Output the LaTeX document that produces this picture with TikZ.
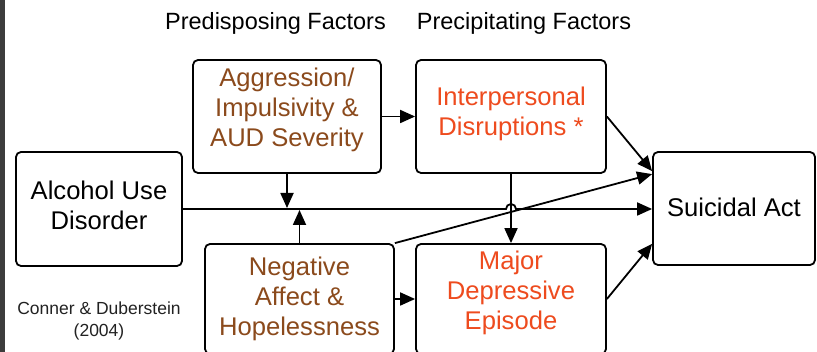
\documentclass[tikz,border=0pt]{standalone}
\usepackage{fontspec}
\setmainfont{Liberation Sans}
\usetikzlibrary{arrows.meta}
\definecolor{brownt}{HTML}{8B4A1C}
\definecolor{oranget}{HTML}{EE4B1E}
\definecolor{barg}{HTML}{3C3C3C}
\definecolor{credit}{HTML}{222222}
\begin{document}
\begin{tikzpicture}[x=1pt,y=-1pt,
  box/.style={draw, line width=1.8pt, rounded corners=5pt, inner sep=0pt},
  bigtxt/.style={font=\fontsize{25.6}{30}\selectfont, align=center, inner sep=0pt},
  headtxt/.style={font=\fontsize{23.5}{28}\selectfont, inner sep=0pt},
  arr/.style={line width=1.8pt, -{Triangle[length=15pt,width=13pt]}},
  plain/.style={line width=1.8pt}]
\clip (0,0) rectangle (817,352);
\fill[white] (0,0) rectangle (817,352);
\fill[barg] (0,0) rectangle (5,352);

% header
\node[headtxt] (hpre) at (275.5,23) {Predisposing Factors};
\node[headtxt] (hprc) at (524,23) {Precipitating Factors};

% boxes
\node[box, minimum width=166pt, minimum height=114pt] (alc) at (99,209) {};
\node[box, minimum width=188pt, minimum height=113pt] (agg) at (287,116.5) {};
\node[box, minimum width=190pt, minimum height=113pt] (ipd) at (511,116.5) {};
\node[box, minimum width=162pt, minimum height=113pt] (sui) at (734,208.5) {};
\node[box, minimum width=189pt, minimum height=110pt] (neg) at (299.5,299) {};
\node[box, minimum width=190pt, minimum height=110pt] (mdd) at (511,299) {};

% texts
\node[bigtxt] (alct) at (99,205) {Alcohol Use\\Disorder};
\node[bigtxt, text=brownt] (aggt) at (287,110) {Aggression/\\Impulsivity \&\\AUD Severity};
\node[bigtxt, text=oranget] (ipdt) at (511,114) {Interpersonal\\Disruptions *};
\node[bigtxt] (suit) at (734,207) {Suicidal Act};
\node[bigtxt, text=brownt] (negt) at (299.5,299) {Negative\\Affect \&\\Hopelessness};
\node[bigtxt, text=oranget] (mddt) at (511,293) {Major\\Depressive\\Episode};
\node[font=\fontsize{17.5}{22}\selectfont, align=center, inner sep=0pt, text=credit] (cred) at (99,321) {Conner \& Duberstein\\(2004)};

% connectors
\coordinate (hop) at (ipd.south |- alc.east);
\draw[arr] (alc.east) -- ([xshift=-5pt]hop) arc[start angle=180, end angle=0, radius=5pt] -- (alc.east -| sui.west);
\draw[arr] (agg.south) -- ([yshift=1pt]agg.south |- alc.east);
\draw[arr] (neg.north) -- ([yshift=-1pt]neg.north |- alc.east);
\draw[arr] (ipd.south) -- (mdd.north);
\draw[arr] (agg.east) -- (ipd.west);
\draw[arr] (neg.east) -- (mdd.west);
\draw[arr] (ipd.east) -- ([yshift=-20pt]sui.north west);
\draw[arr] (neg.north east) -- ([yshift=-23pt]sui.north west);
\draw[arr] (mdd.east) -- ([yshift=22pt]sui.south west);
\end{tikzpicture}
\end{document}
